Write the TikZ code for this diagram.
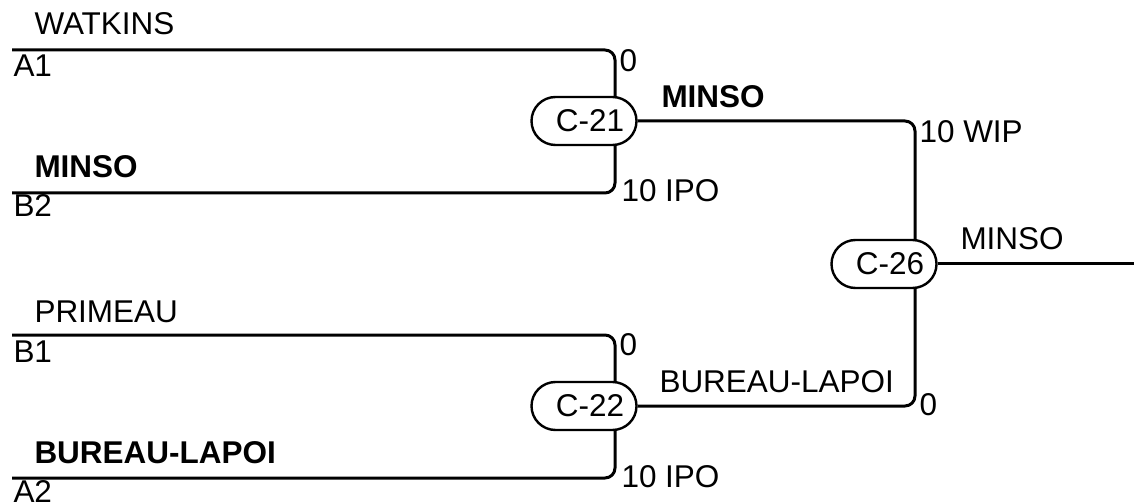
\documentclass[tikz,border=0pt]{standalone}
\usepackage{fontspec}
\setmainfont{Liberation Sans}
\begin{document}
\begin{tikzpicture}[x=0.5bp,y=-0.5bp,line width=1.5bp,line join=round,
  game/.style={draw,fill=white,line width=1.2bp,rounded corners=12bp,minimum width=52.5bp,minimum height=24bp,inner sep=0pt,font=\fontsize{15.8}{19}\selectfont},
  lbl/.style={anchor=base west,inner sep=0pt,font=\fontsize{15.8}{19}\selectfont},
  bracket/.style={rounded corners=5bp}]
\useasboundingbox (0,0) rectangle (1134,504);
%%
\coordinate (line_a1) at (12,50);
\coordinate (line_b2) at (12,193);
\coordinate (line_b1) at (12,335);
\coordinate (line_a2) at (12,478);
\coordinate (col_21) at (615,0);
\coordinate (col_26) at (915,0);
\coordinate (col_22) at (615,0);
\coordinate (line_win) at (1134,264);
%
\node (game_21) at (584,121) [game] {\hspace{6bp}C-21};
\node (game_22) at (584,406) [game] {\hspace{6bp}C-22};
\node (game_26) at (884,264) [game] {\hspace{6bp}C-26};
%
\draw [bracket] (line_a1) -| (col_21 |- game_21.north);
\draw [bracket] (line_b2) -| (col_21 |- game_21.south);
\draw [bracket] (line_b1) -| (col_22 |- game_22.north);
\draw [bracket] (line_a2) -| (col_22 |- game_22.south);
\draw [bracket] (game_21.east) -| (col_26 |- game_26.north);
\draw [bracket] (game_22.east) -| (col_26 |- game_26.south);
\draw (game_26.east) -- (line_win);
%
\node (name_a1) at (33,35) [lbl] {WATKINS};
\node (seed_a1) at (12,77) [lbl] {A1};
\node (name_b2) at (33,178) [lbl] {\bfseries MINSO};
\node (seed_b2) at (12,217) [lbl] {B2};
\node (name_b1) at (33,322) [lbl] {PRIMEAU};
\node (seed_b1) at (12,362) [lbl] {B1};
\node (name_a2) at (33,463) [lbl] {\bfseries BUREAU-LAPOI};
\node (seed_a2) at (12,502) [lbl] {A2};
%
\node (score_a1) at (618,72) [lbl] {0};
\node (score_b2) at (620,202) [lbl] {10 IPO};
\node (score_b1) at (618,355) [lbl] {0};
\node (score_a2) at (620,487) [lbl] {10 IPO};
\node (win_21) at (660,108) [lbl] {\bfseries MINSO};
\node (win_22) at (658,392) [lbl] {BUREAU-LAPOI};
\node (score_21) at (918,143) [lbl] {10 WIP};
\node (score_22) at (918,415) [lbl] {0};
\node (win_26) at (959,250) [lbl] {MINSO};
%
\end{tikzpicture}
\end{document}
